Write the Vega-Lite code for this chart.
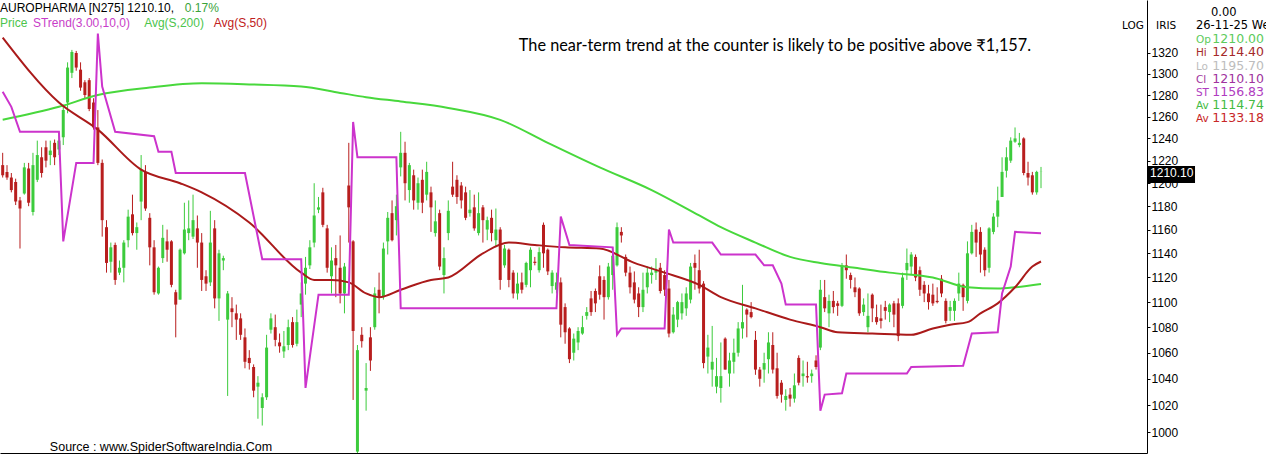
{
"$schema": "https://vega.github.io/schema/vega-lite/v6.json",
"width": 1147, "height": 453,
"autosize": {"type": "none"},
"padding": {"left": 0, "top": 0, "right": 119, "bottom": 6},
"background": "white",
"config": {"view": {"stroke": null},
 "axis": {"grid": false, "domainColor": "#000000", "domainWidth": 1, "tickColor": "#000000", "tickSize": 3, "labelPadding": 1, "labelFont": "Liberation Sans", "labelFontSize": 12, "labelColor": "#000000", "labelFlush": false, "labelOverlap": false, "labelBound": false},
 "axisX": {"labels": false, "ticks": false}},
"datasets": {
"candles": [
{"i":0,"o":1216,"h":1227,"l":1205,"c":1207},
{"i":1,"o":1210,"h":1216,"l":1203,"c":1205},
{"i":2,"o":1205,"h":1209,"l":1192,"c":1194},
{"i":3,"o":1201,"h":1204,"l":1181,"c":1184},
{"i":4,"o":1185,"h":1188,"l":1144,"c":1178},
{"i":5,"o":1191,"h":1218,"l":1190,"c":1214},
{"i":6,"o":1213,"h":1218,"l":1180,"c":1183},
{"i":7,"o":1175,"h":1227,"l":1172,"c":1216},
{"i":8,"o":1203,"h":1238,"l":1201,"c":1225},
{"i":9,"o":1223,"h":1232,"l":1205,"c":1209},
{"i":10,"o":1232,"h":1238,"l":1214,"c":1220},
{"i":11,"o":1225,"h":1238,"l":1216,"c":1229},
{"i":12,"o":1236,"h":1239,"l":1216,"c":1223},
{"i":13,"o":1230,"h":1243,"l":1225,"c":1238},
{"i":14,"o":1241,"h":1271,"l":1234,"c":1266},
{"i":15,"o":1273,"h":1311,"l":1263,"c":1306},
{"i":16,"o":1301,"h":1323,"l":1296,"c":1321},
{"i":17,"o":1320,"h":1322,"l":1303,"c":1306},
{"i":18,"o":1304,"h":1311,"l":1284,"c":1287},
{"i":19,"o":1292,"h":1294,"l":1277,"c":1280},
{"i":20,"o":1294,"h":1296,"l":1265,"c":1267},
{"i":21,"o":1273,"h":1277,"l":1248,"c":1250},
{"i":22,"o":1250,"h":1266,"l":1216,"c":1218},
{"i":23,"o":1218,"h":1221,"l":1154,"c":1168},
{"i":24,"o":1162,"h":1168,"l":1124,"c":1132},
{"i":25,"o":1133,"h":1149,"l":1124,"c":1145},
{"i":26,"o":1147,"h":1149,"l":1114,"c":1118},
{"i":27,"o":1124,"h":1134,"l":1122,"c":1128},
{"i":28,"o":1128,"h":1151,"l":1116,"c":1149},
{"i":29,"o":1151,"h":1177,"l":1145,"c":1171},
{"i":30,"o":1173,"h":1190,"l":1155,"c":1157},
{"i":31,"o":1157,"h":1166,"l":1143,"c":1162},
{"i":32,"o":1184,"h":1225,"l":1168,"c":1212},
{"i":33,"o":1210,"h":1216,"l":1176,"c":1178},
{"i":34,"o":1170,"h":1174,"l":1130,"c":1145},
{"i":35,"o":1145,"h":1151,"l":1106,"c":1108},
{"i":36,"o":1107,"h":1129,"l":1106,"c":1128},
{"i":37,"o":1136,"h":1164,"l":1132,"c":1153},
{"i":38,"o":1150,"h":1160,"l":1133,"c":1143},
{"i":39,"o":1150,"h":1151,"l":1112,"c":1114},
{"i":40,"o":1108,"h":1110,"l":1072,"c":1098},
{"i":41,"o":1102,"h":1144,"l":1102,"c":1143},
{"i":42,"o":1140,"h":1183,"l":1139,"c":1160},
{"i":43,"o":1157,"h":1185,"l":1151,"c":1161},
{"i":44,"o":1154,"h":1190,"l":1152,"c":1168},
{"i":45,"o":1161,"h":1172,"l":1128,"c":1149},
{"i":46,"o":1149,"h":1157,"l":1109,"c":1118},
{"i":47,"o":1121,"h":1126,"l":1109,"c":1115},
{"i":48,"o":1116,"h":1176,"l":1113,"c":1149},
{"i":49,"o":1161,"h":1168,"l":1095,"c":1103},
{"i":50,"o":1103,"h":1143,"l":1085,"c":1140},
{"i":51,"o":1134,"h":1138,"l":1126,"c":1136},
{"i":52,"o":1086,"h":1109,"l":1027,"c":1107},
{"i":53,"o":1095,"h":1104,"l":1080,"c":1092},
{"i":54,"o":1091,"h":1098,"l":1070,"c":1086},
{"i":55,"o":1087,"h":1091,"l":1070,"c":1074},
{"i":56,"o":1072,"h":1079,"l":1048,"c":1053},
{"i":57,"o":1056,"h":1062,"l":1047,"c":1052},
{"i":58,"o":1049,"h":1051,"l":1026,"c":1031},
{"i":59,"o":1034,"h":1042,"l":1010,"c":1037},
{"i":60,"o":1018,"h":1029,"l":1005,"c":1026},
{"i":61,"o":1026,"h":1074,"l":1024,"c":1064},
{"i":62,"o":1078,"h":1091,"l":1075,"c":1087},
{"i":63,"o":1080,"h":1090,"l":1065,"c":1070},
{"i":64,"o":1068,"h":1075,"l":1060,"c":1065},
{"i":65,"o":1061,"h":1077,"l":1056,"c":1065},
{"i":66,"o":1066,"h":1086,"l":1062,"c":1080},
{"i":67,"o":1084,"h":1088,"l":1064,"c":1066},
{"i":68,"o":1067,"h":1094,"l":1065,"c":1084},
{"i":69,"o":1098,"h":1116,"l":1088,"c":1107},
{"i":70,"o":1115,"h":1137,"l":1106,"c":1128},
{"i":71,"o":1130,"h":1151,"l":1127,"c":1145},
{"i":72,"o":1149,"h":1200,"l":1145,"c":1172},
{"i":73,"o":1177,"h":1188,"l":1174,"c":1179},
{"i":74,"o":1192,"h":1196,"l":1162,"c":1164},
{"i":75,"o":1161,"h":1164,"l":1124,"c":1128},
{"i":76,"o":1121,"h":1145,"l":1107,"c":1134},
{"i":77,"o":1136,"h":1147,"l":1104,"c":1130},
{"i":78,"o":1128,"h":1155,"l":1099,"c":1107},
{"i":79,"o":1107,"h":1132,"l":1091,"c":1129},
{"i":80,"o":1198,"h":1236,"l":1149,"c":1179},
{"i":81,"o":1150,"h":1151,"l":1024,"c":1077},
{"i":82,"o":986,"h":1066,"l":975,"c":1062},
{"i":83,"o":1074,"h":1080,"l":1064,"c":1069},
{"i":84,"o":1031,"h":1052,"l":1016,"c":1033},
{"i":85,"o":1072,"h":1080,"l":1046,"c":1054},
{"i":86,"o":1080,"h":1112,"l":1078,"c":1107},
{"i":87,"o":1110,"h":1124,"l":1091,"c":1104},
{"i":88,"o":1104,"h":1149,"l":1102,"c":1144},
{"i":89,"o":1150,"h":1175,"l":1139,"c":1170},
{"i":90,"o":1174,"h":1185,"l":1150,"c":1151},
{"i":91,"o":1168,"h":1190,"l":1155,"c":1180},
{"i":92,"o":1214,"h":1246,"l":1206,"c":1227},
{"i":93,"o":1227,"h":1237,"l":1185,"c":1200},
{"i":94,"o":1194,"h":1218,"l":1183,"c":1216},
{"i":95,"o":1207,"h":1212,"l":1177,"c":1185},
{"i":96,"o":1183,"h":1205,"l":1177,"c":1200},
{"i":97,"o":1203,"h":1212,"l":1174,"c":1183},
{"i":98,"o":1190,"h":1219,"l":1185,"c":1210},
{"i":99,"o":1192,"h":1197,"l":1158,"c":1179},
{"i":100,"o":1157,"h":1185,"l":1154,"c":1167},
{"i":101,"o":1174,"h":1177,"l":1126,"c":1129},
{"i":102,"o":1122,"h":1145,"l":1107,"c":1136},
{"i":103,"o":1157,"h":1185,"l":1151,"c":1176},
{"i":104,"o":1197,"h":1219,"l":1188,"c":1190},
{"i":105,"o":1203,"h":1207,"l":1182,"c":1188},
{"i":106,"o":1198,"h":1201,"l":1178,"c":1185},
{"i":107,"o":1192,"h":1197,"l":1168,"c":1170},
{"i":108,"o":1174,"h":1194,"l":1171,"c":1177},
{"i":109,"o":1179,"h":1190,"l":1159,"c":1161},
{"i":110,"o":1157,"h":1192,"l":1155,"c":1174},
{"i":111,"o":1179,"h":1181,"l":1149,"c":1168},
{"i":112,"o":1160,"h":1171,"l":1151,"c":1168},
{"i":113,"o":1170,"h":1177,"l":1150,"c":1157},
{"i":114,"o":1151,"h":1178,"l":1145,"c":1160},
{"i":115,"o":1160,"h":1162,"l":1110,"c":1118},
{"i":116,"o":1130,"h":1147,"l":1128,"c":1144},
{"i":117,"o":1143,"h":1144,"l":1112,"c":1118},
{"i":118,"o":1124,"h":1126,"l":1103,"c":1107},
{"i":119,"o":1107,"h":1124,"l":1102,"c":1115},
{"i":120,"o":1116,"h":1124,"l":1107,"c":1110},
{"i":121,"o":1114,"h":1133,"l":1112,"c":1132},
{"i":122,"o":1126,"h":1145,"l":1112,"c":1143},
{"i":123,"o":1133,"h":1137,"l":1130,"c":1132},
{"i":124,"o":1126,"h":1145,"l":1124,"c":1141},
{"i":125,"o":1164,"h":1166,"l":1128,"c":1140},
{"i":126,"o":1143,"h":1144,"l":1122,"c":1125},
{"i":127,"o":1113,"h":1126,"l":1107,"c":1124},
{"i":128,"o":1110,"h":1124,"l":1107,"c":1116},
{"i":129,"o":1116,"h":1120,"l":1072,"c":1082},
{"i":130,"o":1096,"h":1099,"l":1067,"c":1076},
{"i":131,"o":1079,"h":1080,"l":1052,"c":1055},
{"i":132,"o":1060,"h":1075,"l":1054,"c":1071},
{"i":133,"o":1068,"h":1080,"l":1062,"c":1077},
{"i":134,"o":1075,"h":1089,"l":1074,"c":1080},
{"i":135,"o":1089,"h":1096,"l":1086,"c":1092},
{"i":136,"o":1103,"h":1109,"l":1089,"c":1092},
{"i":137,"o":1109,"h":1111,"l":1092,"c":1099},
{"i":138,"o":1121,"h":1130,"l":1102,"c":1106},
{"i":139,"o":1118,"h":1121,"l":1086,"c":1104},
{"i":140,"o":1104,"h":1132,"l":1102,"c":1129},
{"i":141,"o":1122,"h":1145,"l":1110,"c":1138},
{"i":142,"o":1130,"h":1166,"l":1129,"c":1162},
{"i":143,"o":1158,"h":1162,"l":1149,"c":1155},
{"i":144,"o":1137,"h":1139,"l":1121,"c":1124},
{"i":145,"o":1124,"h":1129,"l":1107,"c":1112},
{"i":146,"o":1116,"h":1125,"l":1099,"c":1102},
{"i":147,"o":1107,"h":1112,"l":1088,"c":1096},
{"i":148,"o":1096,"h":1124,"l":1092,"c":1110},
{"i":149,"o":1112,"h":1129,"l":1107,"c":1124},
{"i":150,"o":1122,"h":1129,"l":1115,"c":1124},
{"i":151,"o":1124,"h":1136,"l":1118,"c":1126},
{"i":152,"o":1128,"h":1132,"l":1107,"c":1109},
{"i":153,"o":1122,"h":1126,"l":1105,"c":1110},
{"i":154,"o":1111,"h":1118,"l":1072,"c":1075},
{"i":155,"o":1076,"h":1096,"l":1075,"c":1090},
{"i":156,"o":1086,"h":1101,"l":1080,"c":1100},
{"i":157,"o":1091,"h":1107,"l":1086,"c":1100},
{"i":158,"o":1095,"h":1112,"l":1089,"c":1107},
{"i":159,"o":1102,"h":1132,"l":1099,"c":1129},
{"i":160,"o":1132,"h":1139,"l":1110,"c":1128},
{"i":161,"o":1126,"h":1143,"l":1107,"c":1111},
{"i":162,"o":1115,"h":1117,"l":1048,"c":1052},
{"i":163,"o":1057,"h":1074,"l":1044,"c":1064},
{"i":164,"o":1047,"h":1081,"l":1034,"c":1053},
{"i":165,"o":1034,"h":1056,"l":1029,"c":1042},
{"i":166,"o":1033,"h":1068,"l":1022,"c":1042},
{"i":167,"o":1071,"h":1072,"l":1047,"c":1047},
{"i":168,"o":1044,"h":1060,"l":1034,"c":1054},
{"i":169,"o":1053,"h":1071,"l":1044,"c":1060},
{"i":170,"o":1060,"h":1084,"l":1057,"c":1079},
{"i":171,"o":1079,"h":1114,"l":1071,"c":1084},
{"i":172,"o":1094,"h":1095,"l":1072,"c":1090},
{"i":173,"o":1092,"h":1100,"l":1087,"c":1088},
{"i":174,"o":1070,"h":1077,"l":1043,"c":1047},
{"i":175,"o":1047,"h":1049,"l":1034,"c":1040},
{"i":176,"o":1047,"h":1060,"l":1037,"c":1052},
{"i":177,"o":1055,"h":1076,"l":1044,"c":1068},
{"i":178,"o":1066,"h":1076,"l":1044,"c":1047},
{"i":179,"o":1048,"h":1060,"l":1025,"c":1027},
{"i":180,"o":1037,"h":1039,"l":1022,"c":1028},
{"i":181,"o":1024,"h":1032,"l":1016,"c":1027},
{"i":182,"o":1028,"h":1033,"l":1019,"c":1025},
{"i":183,"o":1025,"h":1044,"l":1022,"c":1035},
{"i":184,"o":1056,"h":1058,"l":1035,"c":1037},
{"i":185,"o":1042,"h":1054,"l":1034,"c":1044},
{"i":186,"o":1042,"h":1053,"l":1037,"c":1041},
{"i":187,"o":1042,"h":1047,"l":1037,"c":1044},
{"i":188,"o":1054,"h":1058,"l":1047,"c":1049},
{"i":189,"o":1064,"h":1118,"l":1062,"c":1110},
{"i":190,"o":1104,"h":1118,"l":1092,"c":1095},
{"i":191,"o":1091,"h":1106,"l":1080,"c":1101},
{"i":192,"o":1101,"h":1109,"l":1091,"c":1096},
{"i":193,"o":1099,"h":1101,"l":1089,"c":1097},
{"i":194,"o":1097,"h":1132,"l":1096,"c":1130},
{"i":195,"o":1130,"h":1139,"l":1119,"c":1126},
{"i":196,"o":1122,"h":1124,"l":1111,"c":1118},
{"i":197,"o":1112,"h":1120,"l":1104,"c":1108},
{"i":198,"o":1111,"h":1112,"l":1089,"c":1091},
{"i":199,"o":1092,"h":1103,"l":1089,"c":1098},
{"i":200,"o":1080,"h":1107,"l":1076,"c":1089},
{"i":201,"o":1106,"h":1107,"l":1084,"c":1095},
{"i":202,"o":1088,"h":1098,"l":1082,"c":1084},
{"i":203,"o":1087,"h":1098,"l":1079,"c":1085},
{"i":204,"o":1096,"h":1101,"l":1086,"c":1093},
{"i":205,"o":1092,"h":1099,"l":1084,"c":1098},
{"i":206,"o":1099,"h":1101,"l":1080,"c":1090},
{"i":207,"o":1099,"h":1103,"l":1069,"c":1073},
{"i":208,"o":1097,"h":1124,"l":1095,"c":1120},
{"i":209,"o":1126,"h":1144,"l":1118,"c":1132},
{"i":210,"o":1129,"h":1141,"l":1122,"c":1139},
{"i":211,"o":1137,"h":1139,"l":1117,"c":1120},
{"i":212,"o":1126,"h":1129,"l":1105,"c":1110},
{"i":213,"o":1114,"h":1117,"l":1100,"c":1107},
{"i":214,"o":1107,"h":1114,"l":1094,"c":1100},
{"i":215,"o":1106,"h":1115,"l":1097,"c":1099},
{"i":216,"o":1101,"h":1112,"l":1099,"c":1100},
{"i":217,"o":1119,"h":1122,"l":1104,"c":1107},
{"i":218,"o":1101,"h":1103,"l":1083,"c":1085},
{"i":219,"o":1093,"h":1101,"l":1085,"c":1096},
{"i":220,"o":1093,"h":1103,"l":1085,"c":1101},
{"i":221,"o":1107,"h":1124,"l":1101,"c":1115},
{"i":222,"o":1114,"h":1115,"l":1093,"c":1104},
{"i":223,"o":1101,"h":1150,"l":1099,"c":1140},
{"i":224,"o":1140,"h":1164,"l":1139,"c":1158},
{"i":225,"o":1160,"h":1166,"l":1137,"c":1149},
{"i":226,"o":1158,"h":1162,"l":1124,"c":1139},
{"i":227,"o":1143,"h":1145,"l":1121,"c":1126},
{"i":228,"o":1128,"h":1162,"l":1124,"c":1161},
{"i":229,"o":1158,"h":1174,"l":1156,"c":1171},
{"i":230,"o":1171,"h":1197,"l":1162,"c":1185},
{"i":231,"o":1188,"h":1223,"l":1188,"c":1210},
{"i":232,"o":1211,"h":1232,"l":1205,"c":1223},
{"i":233,"o":1220,"h":1241,"l":1218,"c":1238},
{"i":234,"o":1237,"h":1250,"l":1236,"c":1240},
{"i":235,"o":1234,"h":1245,"l":1232,"c":1236},
{"i":236,"o":1240,"h":1241,"l":1207,"c":1209},
{"i":237,"o":1209,"h":1219,"l":1198,"c":1205},
{"i":238,"o":1207,"h":1210,"l":1190,"c":1192},
{"i":239,"o":1192,"h":1211,"l":1190,"c":1210},
{"i":240,"o":1210,"h":1214.4,"l":1195.7,"c":1210.1}
],
"ma200": [
{"i":0,"v":1257},{"i":13,"v":1269},{"i":22,"v":1280},{"i":34,"v":1287},{"i":46,"v":1291},{"i":57,"v":1290},{"i":69,"v":1288},{"i":78,"v":1282},{"i":84,"v":1278},{"i":92,"v":1274},{"i":103,"v":1268},{"i":115,"v":1257},{"i":126,"v":1236},{"i":138,"v":1214},{"i":150,"v":1194},{"i":161,"v":1172},{"i":166,"v":1162},{"i":174,"v":1149},{"i":182,"v":1137},{"i":189,"v":1132},{"i":197,"v":1128},{"i":205,"v":1124},{"i":215,"v":1120},{"i":223,"v":1112},{"i":230,"v":1111},{"i":234,"v":1112},{"i":240,"v":1114.74}
],
"ma50": [
{"i":0,"v":1335},{"i":13,"v":1273},{"i":22,"v":1248},{"i":32,"v":1212},{"i":41,"v":1200},{"i":46,"v":1192},{"i":57,"v":1166},{"i":69,"v":1124},{"i":72,"v":1118},{"i":76,"v":1118},{"i":80,"v":1116},{"i":84,"v":1107},{"i":87,"v":1104},{"i":92,"v":1110},{"i":99,"v":1118},{"i":103,"v":1120},{"i":111,"v":1140},{"i":117,"v":1149},{"i":123,"v":1147},{"i":130,"v":1145},{"i":138,"v":1144},{"i":146,"v":1132},{"i":153,"v":1124},{"i":161,"v":1114},{"i":166,"v":1104},{"i":174,"v":1095},{"i":182,"v":1086},{"i":189,"v":1080},{"i":193,"v":1076},{"i":201,"v":1075},{"i":210,"v":1074},{"i":215,"v":1079},{"i":219,"v":1082},{"i":223,"v":1084},{"i":226,"v":1091},{"i":230,"v":1099},{"i":234,"v":1112},{"i":238,"v":1129},{"i":240,"v":1133.18}
],
"st": [
{"i":0,"v":1283},{"i":2,"v":1269},{"i":4,"v":1246},{"i":13,"v":1246},{"i":14,"v":1150},{"i":17,"v":1218},{"i":21,"v":1218},{"i":22,"v":1339},{"i":23,"v":1288},{"i":26,"v":1246},{"i":35,"v":1242},{"i":36,"v":1228},{"i":39,"v":1228},{"i":40,"v":1209},{"i":56,"v":1209},{"i":60,"v":1135},{"i":69,"v":1135},{"i":70,"v":1033},{"i":73,"v":1106},{"i":80,"v":1106},{"i":81,"v":1255},{"i":82,"v":1223},{"i":91,"v":1223},{"i":92,"v":1095},{"i":128,"v":1095},{"i":129,"v":1171},{"i":131,"v":1147},{"i":141,"v":1145},{"i":142,"v":1074},{"i":143,"v":1079},{"i":153,"v":1079},{"i":154,"v":1160},{"i":155,"v":1149},{"i":164,"v":1149},{"i":166,"v":1139},{"i":174,"v":1139},{"i":176,"v":1130},{"i":178,"v":1130},{"i":180,"v":1115},{"i":181,"v":1098},{"i":188,"v":1098},{"i":189,"v":1016},{"i":190,"v":1028},{"i":194,"v":1029},{"i":195,"v":1044},{"i":209,"v":1044},{"i":210,"v":1049},{"i":222,"v":1050},{"i":224,"v":1075},{"i":230,"v":1076},{"i":231,"v":1107},{"i":233,"v":1129},{"i":234,"v":1158},{"i":240,"v":1156.83}
],
"one": [{}]
},
"layer": [
{"data": {"name": "candles"},
 "mark": {"type": "rule", "strokeWidth": 1, "clip": true},
 "encoding": {
  "x": {"field": "i", "type": "quantitative", "scale": {"domain": [-0.62, 264.5], "nice": false, "zero": false, "padding": 0}, "axis": {"title": null}},
  "y": {"field": "l", "type": "quantitative", "scale": {"type": "log", "domain": [985, 1372.2], "nice": false, "padding": 0}, "axis": {"orient": "right", "title": null, "format": "d", "values": [1000,1020,1040,1060,1080,1100,1120,1140,1160,1180,1200,1220,1240,1260,1280,1300,1320]}},
  "y2": {"field": "h"},
  "color": {"condition": {"test": "datum.c >= datum.o", "value": "#3CCB3C"}, "value": "#B81E1E"}
 }},
{"data": {"name": "candles"},
 "mark": {"type": "bar", "width": 3, "clip": true},
 "encoding": {
  "x": {"field": "i", "type": "quantitative", "scale": {"domain": [-0.62, 264.5], "nice": false, "zero": false, "padding": 0}, "axis": {"title": null}},
  "y": {"field": "o", "type": "quantitative", "scale": {"type": "log", "domain": [985, 1372.2], "nice": false, "padding": 0}, "axis": {"orient": "right", "title": null, "format": "d", "values": [1000,1020,1040,1060,1080,1100,1120,1140,1160,1180,1200,1220,1240,1260,1280,1300,1320]}},
  "y2": {"field": "c"},
  "color": {"condition": {"test": "datum.c >= datum.o", "value": "#3CCB3C"}, "value": "#B81E1E"}
 }},
{"data": {"name": "ma200"},
 "mark": {"type": "line", "color": "#48D83C", "strokeWidth": 2, "interpolate": "monotone", "clip": true},
 "encoding": {
  "x": {"field": "i", "type": "quantitative", "scale": {"domain": [-0.62, 264.5], "nice": false, "zero": false, "padding": 0}, "axis": {"title": null}},
  "y": {"field": "v", "type": "quantitative", "scale": {"type": "log", "domain": [985, 1372.2], "nice": false, "padding": 0}, "axis": {"orient": "right", "title": null, "format": "d", "values": [1000,1020,1040,1060,1080,1100,1120,1140,1160,1180,1200,1220,1240,1260,1280,1300,1320]}}
 }},
{"data": {"name": "ma50"},
 "mark": {"type": "line", "color": "#AA1A1A", "strokeWidth": 2, "interpolate": "monotone", "clip": true},
 "encoding": {
  "x": {"field": "i", "type": "quantitative", "scale": {"domain": [-0.62, 264.5], "nice": false, "zero": false, "padding": 0}, "axis": {"title": null}},
  "y": {"field": "v", "type": "quantitative", "scale": {"type": "log", "domain": [985, 1372.2], "nice": false, "padding": 0}, "axis": {"orient": "right", "title": null, "format": "d", "values": [1000,1020,1040,1060,1080,1100,1120,1140,1160,1180,1200,1220,1240,1260,1280,1300,1320]}}
 }},
{"data": {"name": "st"},
 "mark": {"type": "line", "color": "#CC33CC", "strokeWidth": 2, "clip": true},
 "encoding": {
  "x": {"field": "i", "type": "quantitative", "scale": {"domain": [-0.62, 264.5], "nice": false, "zero": false, "padding": 0}, "axis": {"title": null}},
  "y": {"field": "v", "type": "quantitative", "scale": {"type": "log", "domain": [985, 1372.2], "nice": false, "padding": 0}, "axis": {"orient": "right", "title": null, "format": "d", "values": [1000,1020,1040,1060,1080,1100,1120,1140,1160,1180,1200,1220,1240,1260,1280,1300,1320]}}
 }},
{"data": {"name": "one"},
 "layer": [
  {"mark": {"type": "text", "text": "AUROPHARMA [N275] 1210.10,", "align": "left", "baseline": "alphabetic", "font": "Liberation Sans", "fontSize": 12, "color": "#000000"},
   "encoding": {"x": {"datum": -0.62}, "y": {"datum": 1360.3}}},
  {"mark": {"type": "text", "text": "0.17%", "align": "left", "baseline": "alphabetic", "font": "Liberation Sans", "fontSize": 12, "color": "#3AA33A"},
   "encoding": {"x": {"datum": 42.1}, "y": {"datum": 1360.3}}},
  {"mark": {"type": "text", "text": "Price", "align": "left", "baseline": "alphabetic", "font": "Liberation Sans", "fontSize": 12, "color": "#4CC44C"},
   "encoding": {"x": {"datum": -0.62}, "y": {"datum": 1345.4}}},
  {"mark": {"type": "text", "text": "STrend(3.00,10,0)", "align": "left", "baseline": "alphabetic", "font": "Liberation Sans", "fontSize": 12, "color": "#C83CC8"},
   "encoding": {"x": {"datum": 7.0}, "y": {"datum": 1345.4}}},
  {"mark": {"type": "text", "text": "Avg(S,200)", "align": "left", "baseline": "alphabetic", "font": "Liberation Sans", "fontSize": 12, "color": "#4CC44C"},
   "encoding": {"x": {"datum": 32.7}, "y": {"datum": 1345.4}}},
  {"mark": {"type": "text", "text": "Avg(S,50)", "align": "left", "baseline": "alphabetic", "font": "Liberation Sans", "fontSize": 12, "color": "#C02020"},
   "encoding": {"x": {"datum": 48.8}, "y": {"datum": 1345.4}}},
  {"mark": {"type": "text", "text": "The near-term trend at the counter is likely to be positive above ₹1,157.", "align": "left", "baseline": "alphabetic", "font": "Lato", "fontSize": 16.3, "color": "#000000"},
   "encoding": {"x": {"datum": 119.3}, "y": {"datum": 1321.9}}},
  {"mark": {"type": "text", "text": "Source : www.SpiderSoftwareIndia.Com", "align": "left", "baseline": "alphabetic", "font": "Liberation Sans", "fontSize": 12.5, "color": "#000000"},
   "encoding": {"x": {"datum": 10.9}, "y": {"datum": 986.1}}},
  {"mark": {"type": "text", "text": "LOG", "align": "left", "baseline": "alphabetic", "font": "DejaVu Sans", "fontSize": 10.5, "color": "#000000"},
   "encoding": {"x": {"datum": 258.7}, "y": {"datum": 1343.4}}},
  {"mark": {"type": "text", "text": "IRIS", "align": "left", "baseline": "alphabetic", "font": "DejaVu Sans", "fontSize": 10.5, "color": "#000000"},
   "encoding": {"x": {"datum": 266.6}, "y": {"datum": 1343.4}}},
  {"mark": {"type": "text", "text": "0.00", "align": "left", "baseline": "alphabetic", "font": "DejaVu Sans", "fontSize": 11.5, "color": "#000000"},
   "encoding": {"x": {"datum": 279.3}, "y": {"datum": 1356.3}}},
  {"mark": {"type": "text", "text": "26-11-25 Wed", "align": "left", "baseline": "alphabetic", "font": "DejaVu Sans", "fontSize": 11.5, "color": "#000000"},
   "encoding": {"x": {"datum": 275.8}, "y": {"datum": 1343.4}}},
  {"mark": {"type": "text", "text": "Op", "align": "left", "baseline": "alphabetic", "font": "DejaVu Sans", "fontSize": 10.5, "color": "#5CCB5C"},
   "encoding": {"x": {"datum": 275.8}, "y": {"datum": 1329.7}}},
  {"mark": {"type": "text", "text": "1210.00", "align": "left", "baseline": "alphabetic", "font": "DejaVu Sans", "fontSize": 12.5, "color": "#5CCB5C"},
   "encoding": {"x": {"datum": 279.6}, "y": {"datum": 1329.7}}},
  {"mark": {"type": "text", "text": "Hi", "align": "left", "baseline": "alphabetic", "font": "DejaVu Sans", "fontSize": 10.5, "color": "#A52A2A"},
   "encoding": {"x": {"datum": 275.8}, "y": {"datum": 1317.1}}},
  {"mark": {"type": "text", "text": "1214.40", "align": "left", "baseline": "alphabetic", "font": "DejaVu Sans", "fontSize": 12.5, "color": "#A52A2A"},
   "encoding": {"x": {"datum": 279.6}, "y": {"datum": 1317.1}}},
  {"mark": {"type": "text", "text": "Lo", "align": "left", "baseline": "alphabetic", "font": "DejaVu Sans", "fontSize": 10.5, "color": "#BDBDBD"},
   "encoding": {"x": {"datum": 275.8}, "y": {"datum": 1304.1}}},
  {"mark": {"type": "text", "text": "1195.70", "align": "left", "baseline": "alphabetic", "font": "DejaVu Sans", "fontSize": 12.5, "color": "#BDBDBD"},
   "encoding": {"x": {"datum": 279.6}, "y": {"datum": 1304.1}}},
  {"mark": {"type": "text", "text": "Cl", "align": "left", "baseline": "alphabetic", "font": "DejaVu Sans", "fontSize": 10.5, "color": "#A0339E"},
   "encoding": {"x": {"datum": 275.8}, "y": {"datum": 1291.8}}},
  {"mark": {"type": "text", "text": "1210.10", "align": "left", "baseline": "alphabetic", "font": "DejaVu Sans", "fontSize": 12.5, "color": "#A0339E"},
   "encoding": {"x": {"datum": 279.6}, "y": {"datum": 1291.8}}},
  {"mark": {"type": "text", "text": "ST", "align": "left", "baseline": "alphabetic", "font": "DejaVu Sans", "fontSize": 10.5, "color": "#B03CC0"},
   "encoding": {"x": {"datum": 275.8}, "y": {"datum": 1279.5}}},
  {"mark": {"type": "text", "text": "1156.83", "align": "left", "baseline": "alphabetic", "font": "DejaVu Sans", "fontSize": 12.5, "color": "#B03CC0"},
   "encoding": {"x": {"datum": 279.6}, "y": {"datum": 1279.5}}},
  {"mark": {"type": "text", "text": "Av", "align": "left", "baseline": "alphabetic", "font": "DejaVu Sans", "fontSize": 10.5, "color": "#44BB44"},
   "encoding": {"x": {"datum": 275.8}, "y": {"datum": 1267.4}}},
  {"mark": {"type": "text", "text": "1114.74", "align": "left", "baseline": "alphabetic", "font": "DejaVu Sans", "fontSize": 12.5, "color": "#44BB44"},
   "encoding": {"x": {"datum": 279.6}, "y": {"datum": 1267.4}}},
  {"mark": {"type": "text", "text": "Av", "align": "left", "baseline": "alphabetic", "font": "DejaVu Sans", "fontSize": 10.5, "color": "#C82828"},
   "encoding": {"x": {"datum": 275.8}, "y": {"datum": 1255.0}}},
  {"mark": {"type": "text", "text": "1133.18", "align": "left", "baseline": "alphabetic", "font": "DejaVu Sans", "fontSize": 12.5, "color": "#C82828"},
   "encoding": {"x": {"datum": 279.6}, "y": {"datum": 1255.0}}},
  {"mark": {"type": "rect", "color": "#000000"},
   "encoding": {"x": {"datum": 264.7}, "x2": {"datum": 275.6}, "y": {"datum": 1215.2}, "y2": {"datum": 1200.2}}},
  {"mark": {"type": "text", "text": "1210.10", "align": "left", "baseline": "alphabetic", "font": "Liberation Sans", "fontSize": 12, "color": "#FFFFFF"},
   "encoding": {"x": {"datum": 265.2}, "y": {"datum": 1205.5}}}
 ]}
]
}
